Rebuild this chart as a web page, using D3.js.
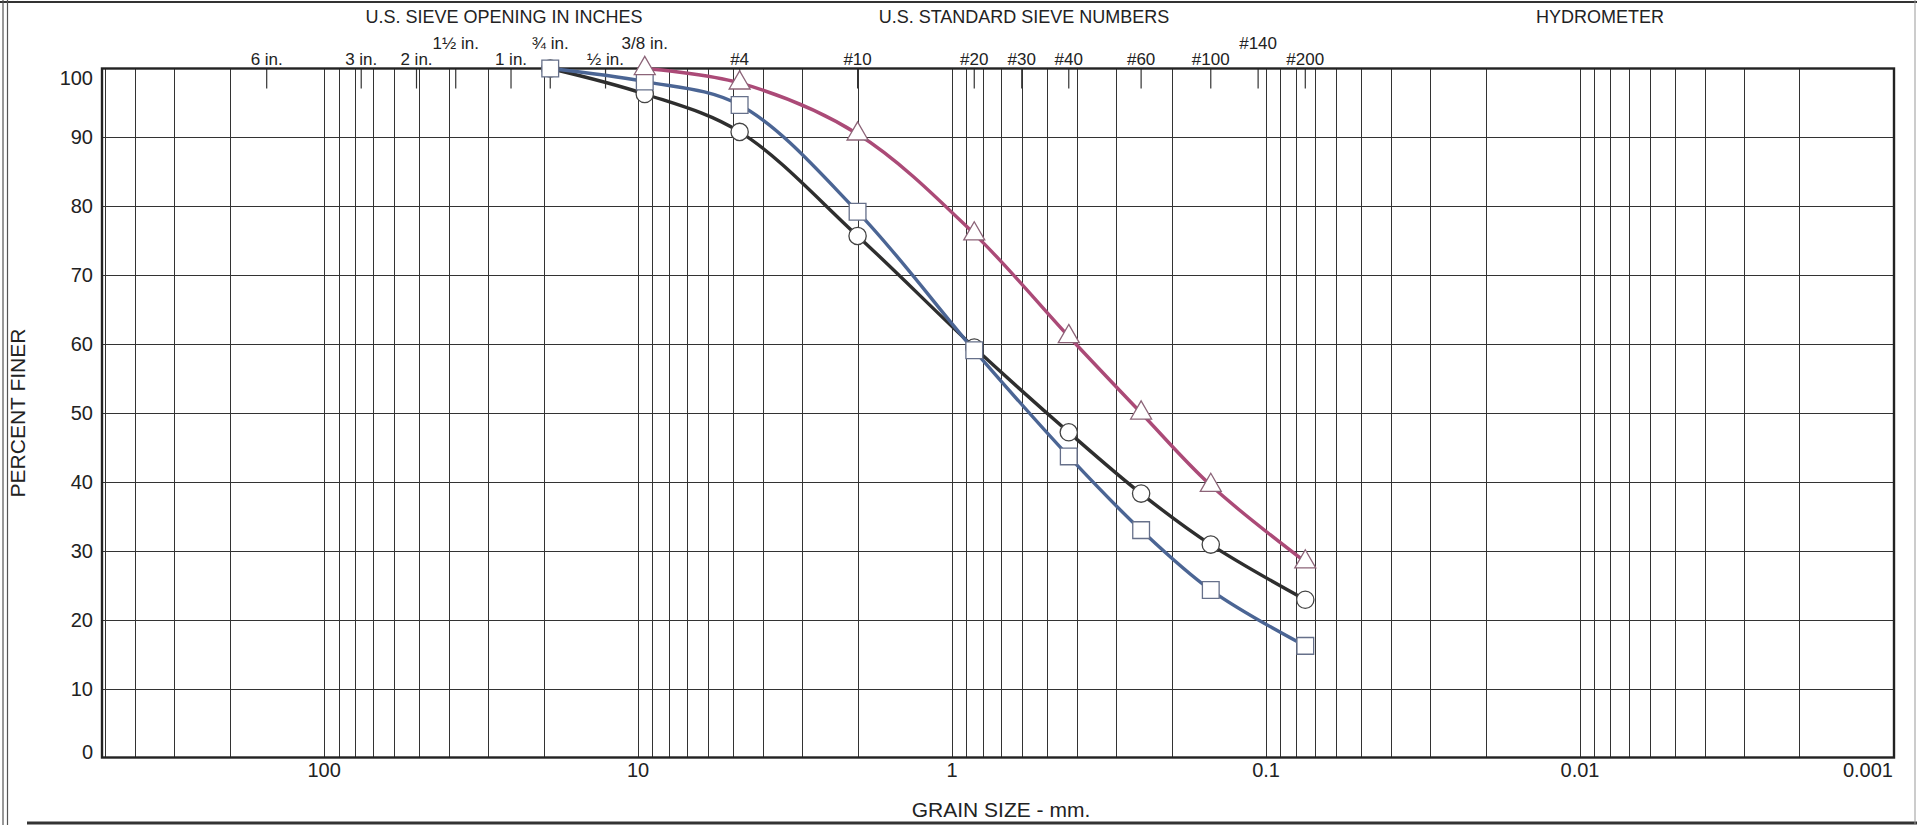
<!DOCTYPE html>
<html>
<head>
<meta charset="utf-8">
<script src="https://cdn.jsdelivr.net/npm/d3@7/dist/d3.min.js"></script>
<style>
  html, body { margin: 0; padding: 0; background: #fff; }
  svg { display: block; font-family: "Liberation Sans", Arial, sans-serif; }
</style>
</head>
<body>
<svg id="chart" width="1917" height="825"></svg>
<script>
// ---------------- DATA ----------------
// Grain sizes (mm) of the sieves used for the tests
const sieveMm = [19.05, 9.525, 4.75, 2.0, 0.85, 0.425, 0.25, 0.15, 0.075];
// Percent finer, sample plotted with circles (black curve)
const circlePct = [100, 96.3, 90.8, 75.7, 59.5, 47.2, 38.3, 30.9, 22.9];
// Percent finer, sample plotted with squares (blue curve)
const squarePct = [100, 98.1, 94.7, 79.2, 59.1, 43.7, 33.0, 24.3, 16.2];
// Sample plotted with triangles (magenta curve) starts at the 3/8 in. sieve
const triangleMm = [9.525, 4.75, 2.0, 0.85, 0.425, 0.25, 0.15, 0.075];
const trianglePct = [100, 97.9, 90.5, 76.0, 61.1, 50.0, 39.5, 28.4];

// Sieve openings marked along the top of the chart
const sieveTickMm = [152.4, 76.2, 50.8, 38.1, 25.4, 19.05, 12.7, 9.525, 4.75, 2.0, 0.85, 0.6, 0.425, 0.25, 0.15, 0.106, 0.075];
const sieveTickLabels = ["6 in.", "3 in.", "2 in.", "1½ in.", "1 in.", "¾ in.", "½ in.", "3/8 in.", "#4", "#10", "#20", "#30", "#40", "#60", "#100", "#140", "#200"];

// Axis ticks
const xTickValues = [100, 10, 1, 0.1, 0.01, 0.001];
const xTickLabels = ["100", "10", "1", "0.1", "0.01", "0.001"];
const yTickValues = [0, 10, 20, 30, 40, 50, 60, 70, 80, 90, 100];

const groupTitles = ["U.S. SIEVE OPENING IN INCHES", "U.S. STANDARD SIEVE NUMBERS", "HYDROMETER"];
const xAxisTitle = "GRAIN SIZE - mm.";
const yAxisTitle = "PERCENT FINER";

// ---------------- LAYOUT ----------------
const W = 1917, H = 825;
const plot = { left: 102, right: 1894, top: 68.5, bottom: 757.5 };

const svg = d3.select("#chart");
svg.append("rect").attr("width", W).attr("height", H).attr("fill", "#fff");

const x = d3.scaleLog().domain([510, 0.001]).range([plot.left, plot.right]);
const y = d3.scaleLinear().domain([0, 100]).range([plot.bottom, plot.top]);

// page frame
const frame = svg.append("g").attr("fill", "none");
frame.append("line").attr("x1", 0).attr("x2", W).attr("y1", 2).attr("y2", 2).attr("stroke", "#333").attr("stroke-width", 2);
frame.append("line").attr("x1", 3).attr("x2", 3).attr("y1", 0).attr("y2", H).attr("stroke", "#555").attr("stroke-width", 1.2);
frame.append("line").attr("x1", 7.5).attr("x2", 7.5).attr("y1", 0).attr("y2", H).attr("stroke", "#555").attr("stroke-width", 1.2);
frame.append("line").attr("x1", 27).attr("x2", W).attr("y1", 823).attr("y2", 823).attr("stroke", "#333").attr("stroke-width", 3);
frame.append("line").attr("x1", 1915).attr("x2", 1915).attr("y1", 0).attr("y2", H).attr("stroke", "#999").attr("stroke-width", 1);

// vertical log grid: every k * 10^n inside the domain
const gridX = [];
for (let n = -3; n <= 2; n++) {
  for (let k = 1; k <= 9; k++) {
    const v = k * Math.pow(10, n);
    if (v > 0.001 * 1.0001 && v < 510 * 0.9999) gridX.push(v);
  }
}
const grid = svg.append("g").attr("stroke", "#333").attr("stroke-width", 1).attr("shape-rendering", "crispEdges");
grid.selectAll("line.vx").data(gridX).join("line")
  .attr("class", "vx")
  .attr("x1", d => Math.round(x(d)) + 0.5).attr("x2", d => Math.round(x(d)) + 0.5)
  .attr("y1", plot.top).attr("y2", plot.bottom);
grid.selectAll("line.hy").data(yTickValues.filter(v => v > 0 && v < 100)).join("line")
  .attr("class", "hy")
  .attr("x1", plot.left).attr("x2", plot.right)
  .attr("y1", d => Math.round(y(d)) + 0.5).attr("y2", d => Math.round(y(d)) + 0.5);

// sieve ticks hanging from the top border
svg.append("g").attr("stroke", "#333").attr("stroke-width", 1.2)
  .selectAll("line").data(sieveTickMm).join("line")
  .attr("x1", d => x(d)).attr("x2", d => x(d))
  .attr("y1", plot.top).attr("y2", plot.top + 20);

// plot border
svg.append("rect")
  .attr("x", plot.left).attr("y", plot.top)
  .attr("width", plot.right - plot.left).attr("height", plot.bottom - plot.top)
  .attr("fill", "none").attr("stroke", "#222").attr("stroke-width", 2.4);

// sieve labels (two rows)
const upperRow = new Set(["1½ in.", "¾ in.", "3/8 in.", "#140"]);
svg.append("g").attr("font-size", 17).attr("fill", "#222").attr("text-anchor", "middle")
  .selectAll("text").data(sieveTickMm).join("text")
  .attr("x", d => x(d))
  .attr("y", (d, i) => upperRow.has(sieveTickLabels[i]) ? 49 : 65)
  .text((d, i) => sieveTickLabels[i]);

// group titles
const titleX = [504, 1024, 1600];
svg.append("g").attr("font-size", 18).attr("fill", "#222").attr("text-anchor", "middle")
  .selectAll("text").data(groupTitles).join("text")
  .attr("x", (d, i) => titleX[i]).attr("y", 23)
  .text(d => d);

// y tick labels
svg.append("g").attr("font-size", 20).attr("fill", "#222").attr("text-anchor", "end")
  .selectAll("text").data(yTickValues).join("text")
  .attr("x", 93)
  .attr("y", d => y(d) + (d === 100 ? 9 : d === 0 ? -6 : 0))
  .attr("dy", "0.35em")
  .text(d => d);

// x tick labels
svg.append("g").attr("font-size", 20).attr("fill", "#222")
  .selectAll("text").data(xTickValues).join("text")
  .attr("x", (d, i) => i === xTickValues.length - 1 ? plot.right - 1 : x(d))
  .attr("text-anchor", (d, i) => i === xTickValues.length - 1 ? "end" : "middle")
  .attr("y", 777)
  .text((d, i) => xTickLabels[i]);

// axis titles
svg.append("text").attr("x", 1001).attr("y", 817).attr("text-anchor", "middle")
  .attr("font-size", 21).attr("fill", "#222").text(xAxisTitle);
svg.append("text").attr("transform", `translate(25,${(plot.top + plot.bottom) / 2}) rotate(-90)`)
  .attr("text-anchor", "middle").attr("font-size", 21).attr("fill", "#222").text(yAxisTitle);

// ---------------- SERIES ----------------
const series = [
  { mm: sieveMm, pct: circlePct, color: "#2e2e2e", shape: d3.symbolCircle, size: 235, mstroke: "#444" },
  { mm: sieveMm, pct: squarePct, color: "#4b6594", shape: d3.symbolSquare, size: 280, mstroke: "#66708a" },
  { mm: triangleMm, pct: trianglePct, color: "#ab4a77", shape: d3.symbolTriangle, size: 190, mstroke: "#8c6478" }
];

const line = d3.line()
  .x(d => x(d[0])).y(d => y(d[1]))
  .curve(d3.curveCatmullRom.alpha(0.5));

const lines = svg.append("g").attr("fill", "none");
series.forEach(s => {
  const pts = s.mm.map((m, i) => [m, s.pct[i]]);
  lines.append("path").datum(pts)
    .attr("d", line)
    .attr("stroke", s.color).attr("stroke-width", 3.4)
    .attr("stroke-linejoin", "round").attr("stroke-linecap", "round");
});

const marks = svg.append("g");
series.forEach(s => {
  const pts = s.mm.map((m, i) => [m, s.pct[i]]);
  marks.append("g").selectAll("path").data(pts).join("path")
    .attr("transform", d => `translate(${x(d[0])},${y(d[1])})`)
    .attr("d", d3.symbol().type(s.shape).size(s.size))
    .attr("fill", "#fff").attr("stroke", s.mstroke).attr("stroke-width", 1.3);
});
</script>
</body>
</html>
